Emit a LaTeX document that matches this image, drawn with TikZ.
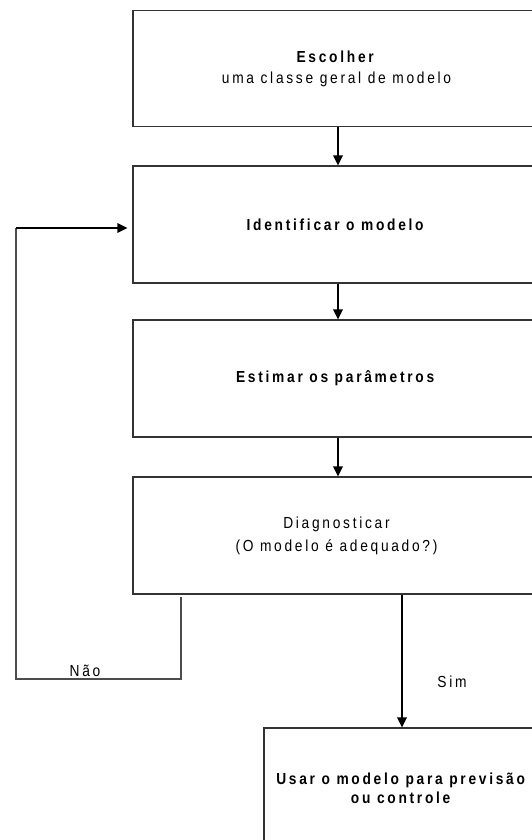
\documentclass[tikz,border=0pt]{standalone}
\usepackage{fontspec}
\setmainfont{Liberation Sans}
\newfontfamily\spaced[LetterSpace=17,FakeStretch=0.86]{Liberation Sans}
\usetikzlibrary{arrows.meta}
\tikzset{
  box/.style={draw=black!80, line width=1.2pt, rectangle, inner sep=0pt, align=center,
    font=\spaced\fontsize{16}{22}\selectfont},
  arr/.style={draw=black, line width=2pt, -{Triangle[length=10pt,width=9.5pt]}},
  loopline/.style={draw=black!70, line width=1.2pt},
  lbl/.style={inner sep=0pt, font=\spaced\fontsize{16}{18}\selectfont}
}
\begin{document}
\begin{tikzpicture}[x=1pt,y=-1pt]
\useasboundingbox (0,0) rectangle (532,840);
\clip (0,0) rectangle (532,840);
\fill[white] (0,0) rectangle (532,840);
\node[box, minimum width=407pt, minimum height=116pt] (b1) at (336.5,68.5)
  {\textbf{Escolher}\\[-1pt]uma classe geral de modelo};
\node[box, minimum width=407pt, minimum height=117pt] (b2) at (336.5,224.5)
  {\textbf{Identificar o modelo}};
\node[box, minimum width=407pt, minimum height=117pt] (b3) at (336.5,378.5)
  {\textbf{Estimar os parâmetros}};
\node[box, minimum width=407pt, minimum height=117pt] (b4) at (336.5,535.5)
  {Diagnosticar\\[1pt](O modelo é adequado?)};
\node[box, minimum width=276pt, minimum height=120pt] (b5) at (402,788)
  {\textbf{Usar o modelo para previsão}\\[-3pt]\textbf{ou controle}};
\draw[arr] ([xshift=1.5pt]b1.south) -- ([xshift=1.5pt]b2.north);
\draw[arr] ([xshift=1.5pt]b2.south) -- ([xshift=1.5pt]b3.north);
\draw[arr] ([xshift=1.5pt]b3.south) -- ([xshift=1.5pt]b4.north);
\draw[arr] ([xshift=65.5pt]b4.south) -- (b5.north);
\coordinate (l1) at (181,597);
\coordinate (l2) at (181,679);
\coordinate (l3) at (16,679);
\coordinate (l4) at (16,228);
\draw[loopline] (l1) -- (l2) -- (l3) -- (l4);
\draw[arr] (l4) -- ([xshift=-5pt]l4 -| b2.west);
\node[lbl, anchor=base] (nao) at (85,676) {Não};
\node[lbl] (sim) at (452,682) {Sim};
\end{tikzpicture}
\end{document}
